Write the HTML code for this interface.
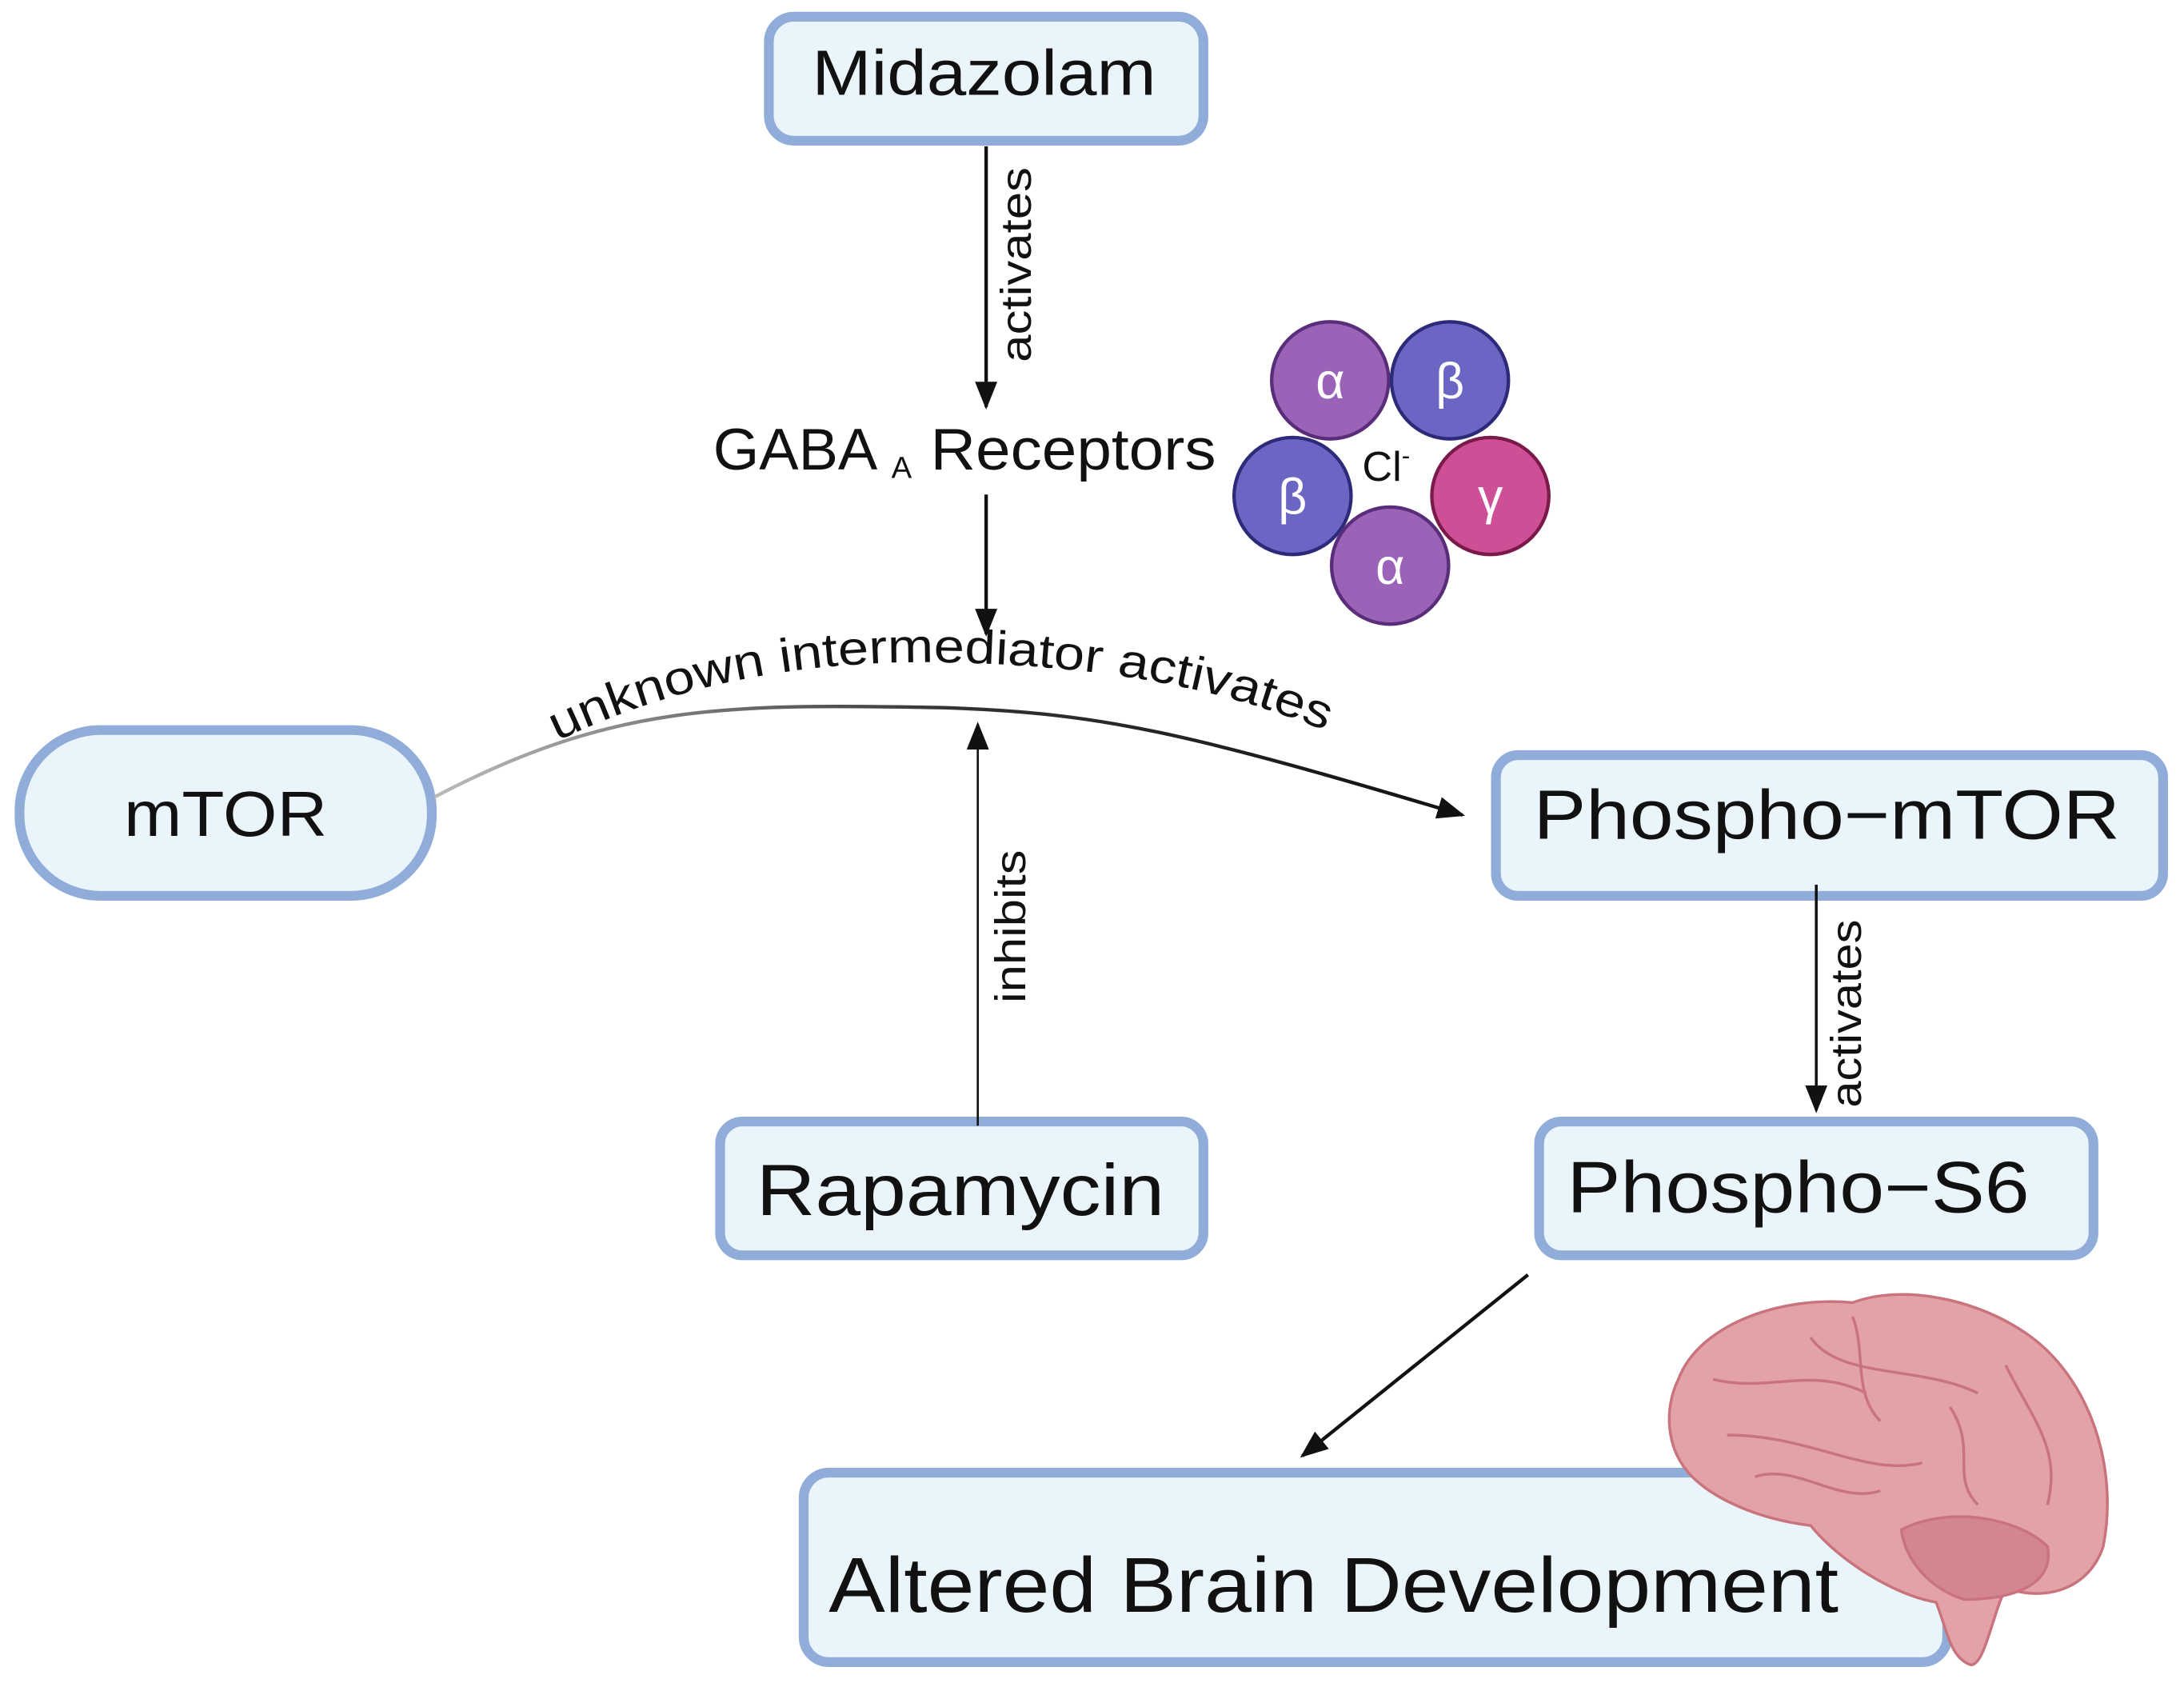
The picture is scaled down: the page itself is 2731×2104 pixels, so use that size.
<!DOCTYPE html>
<html><head><meta charset="utf-8"><style>
html,body{margin:0;padding:0;background:#fff;}
svg{display:block;}
text{font-family:"Liberation Sans",sans-serif;fill:#111;}
</style></head><body>
<svg width="2731" height="2104" viewBox="0 0 1568 1208" preserveAspectRatio="none" xmlns="http://www.w3.org/2000/svg">
<defs>
<marker id="ah2" markerWidth="20" markerHeight="16" refX="18" refY="8" orient="auto" markerUnits="userSpaceOnUse" viewBox="0 0 20 16">
<path d="M0,0 L20,8 L0,16 z" fill="#111"/></marker>
<linearGradient id="lg" x1="0" x2="1" y1="0" y2="0"><stop offset="0" stop-color="#bbb"/><stop offset="0.5" stop-color="#333"/><stop offset="1" stop-color="#111"/></linearGradient>
</defs>
<g fill="#eaf4fb" stroke="#8fadd8" stroke-width="7">
<rect x="552" y="12" width="312" height="89" rx="18"/>
<rect x="14" y="524" width="296" height="119" rx="58"/>
<rect x="1074" y="542" width="479" height="101" rx="16"/>
<rect x="517" y="805" width="347" height="96" rx="16"/>
<rect x="1105" y="805" width="398" height="96" rx="16"/>
<rect x="577" y="1057" width="821" height="136" rx="18"/>
</g>
<text x="583" y="68" font-size="46" textLength="247" lengthAdjust="spacingAndGlyphs">Midazolam</text>
<text x="89" y="600" font-size="46" textLength="146" lengthAdjust="spacingAndGlyphs">mTOR</text>
<text x="1101" y="602" font-size="50" textLength="421" lengthAdjust="spacingAndGlyphs">Phospho−mTOR</text>
<text x="543" y="872" font-size="52" textLength="293" lengthAdjust="spacingAndGlyphs">Rapamycin</text>
<text x="1125" y="870" font-size="52" textLength="332" lengthAdjust="spacingAndGlyphs">Phospho−S6</text>
<text x="595" y="1157" font-size="56" textLength="725" lengthAdjust="spacingAndGlyphs">Altered Brain Development</text>
<text x="512" y="337" font-size="42" textLength="118" lengthAdjust="spacingAndGlyphs">GABA</text>
<text x="640" y="343" font-size="22">A</text>
<text x="668" y="337" font-size="42" textLength="205" lengthAdjust="spacingAndGlyphs">Receptors</text>
<g stroke="#111" fill="none">
<line x1="708" y1="105" x2="708" y2="292" stroke-width="2.5" marker-end="url(#ah2)"/>
<line x1="708" y1="355" x2="708" y2="455" stroke-width="2.5" marker-end="url(#ah2)"/>
<line x1="702" y1="808" x2="702" y2="520" stroke-width="1.5" marker-end="url(#ah2)"/>
<line x1="1304" y1="635" x2="1304" y2="797" stroke-width="2" marker-end="url(#ah2)"/>
<line x1="1097" y1="915" x2="935" y2="1045" stroke-width="2.5" marker-end="url(#ah2)"/>
<path d="M312,572 C440,505 520,505 680,508 C790,512 850,525 1050,585" stroke="url(#lg)" stroke-width="2.5" marker-end="url(#ah2)"/>
</g>
<path id="cv" d="M400,532 C500,484 600,472 700,476 C800,480 880,494 960,528" fill="none"/>
<text font-size="34"><textPath href="#cv" textLength="566" lengthAdjust="spacingAndGlyphs">unknown intermediator activates</textPath></text>
<text transform="translate(740,260) rotate(-90)" font-size="31" textLength="140" lengthAdjust="spacingAndGlyphs">activates</text>
<text transform="translate(736,720) rotate(-90)" font-size="31" textLength="110" lengthAdjust="spacingAndGlyphs">inhibits</text>
<text transform="translate(1336,795) rotate(-90)" font-size="31" textLength="135" lengthAdjust="spacingAndGlyphs">activates</text>
<g stroke-width="2.5">
<circle cx="955" cy="273" r="42" fill="#9b63b8" stroke="#5a2d7a"/>
<circle cx="1041" cy="273" r="42" fill="#6b66c4" stroke="#2e2a7a"/>
<circle cx="928" cy="356" r="42" fill="#6b66c4" stroke="#2e2a7a"/>
<circle cx="1070" cy="356" r="42" fill="#cf4f96" stroke="#7a1a4a"/>
<circle cx="998" cy="406" r="42" fill="#9b63b8" stroke="#5a2d7a"/>
</g>
<g font-size="36" text-anchor="middle">
<text x="955" y="286" style="fill:#fff">α</text>
<text x="1041" y="286" style="fill:#fff">β</text>
<text x="928" y="369" style="fill:#fff">β</text>
<text x="1070" y="369" style="fill:#fff">γ</text>
<text x="998" y="419" style="fill:#fff">α</text>
</g>
<text x="978" y="345" font-size="30">Cl<tspan font-size="18" dy="-12">-</tspan></text>
<g stroke="#c9747c" stroke-width="2">
<path d="M1205,990 C1220,950 1280,930 1330,935 C1370,920 1430,935 1465,965 C1505,1000 1520,1060 1510,1110 C1500,1140 1470,1150 1440,1140 C1430,1160 1425,1195 1415,1195 C1400,1190 1398,1170 1390,1150 C1360,1145 1320,1120 1300,1095 C1260,1090 1230,1075 1215,1060 C1195,1040 1195,1010 1205,990 z" fill="#e3a2a8"/>
<path d="M1365,1098 C1400,1080 1450,1090 1470,1110 C1475,1135 1450,1148 1410,1148 C1385,1140 1368,1120 1365,1098 z" fill="#d4868f"/>
<path d="M1230,990 C1270,1000 1300,980 1340,1000 M1300,960 C1320,990 1380,980 1420,1000 M1240,1030 C1300,1030 1340,1060 1380,1050 M1440,980 C1460,1020 1480,1040 1470,1080 M1330,945 C1340,970 1330,1000 1350,1020 M1400,1010 C1420,1040 1400,1060 1420,1080 M1260,1060 C1290,1050 1320,1080 1350,1070" fill="none"/>
</g>
</svg>
</body></html>
